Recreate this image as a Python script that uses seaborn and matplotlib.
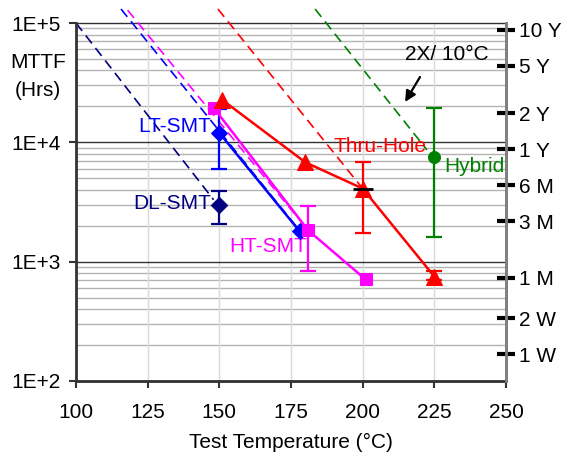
import numpy as np
import matplotlib
matplotlib.use('Agg')
import matplotlib.pyplot as plt
from matplotlib.ticker import FixedLocator, NullLocator, NullFormatter
import seaborn as sns

# --- data ---
lt_temp = [150, 178]
lt_mttf = [12000, 1800]
lt_err_temp = [150]
lt_err_mttf = [12000]
lt_err_lo = [6000]
lt_err_hi = [19000]

ht_temp = [148, 181, 201]
ht_mttf = [19500, 1830, 710]
ht_err_temp = [181]
ht_err_mttf = [1830]
ht_err_lo = [830]
ht_err_hi = [2900]

th_temp = [151, 180, 200, 225]
th_mttf = [22700, 6800, 4100, 750]
th_err_temp = [200, 225]
th_err_mttf = [4100, 750]
th_err_lo = [1740, 700]
th_err_hi = [6800, 840]

dl_temp = [150]
dl_mttf = [3000]
dl_err_lo = [2080]
dl_err_hi = [3900]

hy_temp = [225]
hy_mttf = [7600]
hy_err_lo = [1600]
hy_err_hi = [19500]

# 2X / 10C extrapolation lines
lt_ext_temp = [115.7, 178]
lt_ext_mttf = [131000, 1820]
ht_ext_temp = [118, 181]
ht_ext_mttf = [128000, 1830]
th_ext_temp = [149.5, 200]
th_ext_mttf = [131000, 4100]
dl_ext_temp = [100, 148]
dl_ext_mttf = [100000, 3300]
hy_ext_temp = [183.4, 222.4]
hy_ext_mttf = [131000, 8650]

left_ticks = [100, 1000, 10000, 100000]
left_labels = ['1E+2', '1E+3', '1E+4', '1E+5']
right_hours = [87600, 43800, 17520, 8760, 4380, 2190, 730, 336, 168]
right_labels = ['10 Y', '5 Y', '2 Y', '1 Y', '6 M', '3 M', '1 M', '2 W', '1 W']
x_ticks = [100, 125, 150, 175, 200, 225, 250]

sns.set_style('white')
plt.rcParams['font.family'] = ['Liberation Sans', 'DejaVu Sans']
plt.rcParams['text.color'] = 'black'
plt.rcParams['axes.labelcolor'] = 'black'

fig = plt.figure(figsize=(5.69, 4.55), dpi=100)
ax = fig.add_axes([76 / 569, 1 - 381 / 455, 430 / 569, 358 / 455])
ax.set_yscale('log')
ax.set_xlim(100, 250)
ax.set_ylim(100, 100000)

# grid
minor = [m * 10 ** e for e in range(2, 5) for m in range(2, 10)]
for v in minor:
    ax.axhline(v, color='#b3b3b3', lw=1.0, zorder=0)
for v in left_ticks:
    ax.axhline(v, color='#333333', lw=1.0, zorder=0.5, clip_on=False)
for t in x_ticks[1:-1]:
    ax.axvline(t, color='#d9d9d9', lw=1.0, zorder=0)

dash = (6, 3.5)
colors = {'lt': '#0000ff', 'ht': '#ff00ff', 'th': '#ff0000', 'dl': '#000080', 'hy': '#008000'}

# dashed extrapolations
for xs, ys, c in [(lt_ext_temp, lt_ext_mttf, colors['lt']),
                  (ht_ext_temp, ht_ext_mttf, colors['ht']),
                  (th_ext_temp, th_ext_mttf, colors['th']),
                  (dl_ext_temp, dl_ext_mttf, colors['dl']),
                  (hy_ext_temp, hy_ext_mttf, colors['hy'])]:
    sns.lineplot(x=xs, y=ys, ax=ax, color=c, lw=1.2, dashes=False,
                 linestyle=(0, dash), clip_on=False, zorder=2)

# error bars
def bars(xs, ys, lo, hi, c):
    ax.errorbar(xs, ys, yerr=[np.subtract(ys, lo), np.subtract(hi, ys)],
                fmt='none', ecolor=c, elinewidth=1.6, capsize=6, capthick=1.6, zorder=3)

bars(lt_err_temp, lt_err_mttf, lt_err_lo, lt_err_hi, colors['lt'])
bars(ht_err_temp, ht_err_mttf, ht_err_lo, ht_err_hi, colors['ht'])
bars(th_err_temp, th_err_mttf, th_err_lo, th_err_hi, colors['th'])
bars(dl_temp, dl_mttf, dl_err_lo, dl_err_hi, colors['dl'])
bars(hy_temp, hy_mttf, hy_err_lo, hy_err_hi, colors['hy'])

# solid series lines with markers
sns.lineplot(x=lt_temp, y=lt_mttf, ax=ax, color=colors['lt'], lw=1.8, marker='D',
             markersize=8, markeredgecolor=colors['lt'], zorder=4)
sns.lineplot(x=ht_temp, y=ht_mttf, ax=ax, color=colors['ht'], lw=1.8, marker='s',
             markersize=9, markeredgecolor=colors['ht'], zorder=4)
sns.lineplot(x=th_temp, y=th_mttf, ax=ax, color=colors['th'], lw=1.8, marker='^',
             markersize=11, markeredgecolor=colors['th'], zorder=4)
sns.scatterplot(x=dl_temp, y=dl_mttf, ax=ax, color=colors['dl'], marker='D', s=70,
                edgecolor=colors['dl'], zorder=5)
sns.scatterplot(x=hy_temp, y=hy_mttf, ax=ax, color=colors['hy'], marker='o', s=75,
                edgecolor=colors['hy'], zorder=5)
ax.plot(th_temp[2], th_mttf[2], marker='_', color='black', markersize=14, mew=2, zorder=6)

# labels on series
fs = 15
ax.text(147, 13500, 'LT-SMT', color=colors['lt'], fontsize=fs, ha='right', va='center')
ax.text(147, 3060, 'DL-SMT', color=colors['dl'], fontsize=fs, ha='right', va='center')
ax.text(153.5, 1340, 'HT-SMT', color=colors['ht'], fontsize=fs, ha='left', va='center')
ax.text(190, 9200, 'Thru-Hole', color=colors['th'], fontsize=fs, ha='left', va='center')
ax.text(228.5, 6300, 'Hybrid', color=colors['hy'], fontsize=fs, ha='left', va='center')

ax.text(229.4, 54000, '2X/ 10\u00b0C', fontsize=fs, ha='center', va='center', color='black')
ax.annotate('', xy=(214.8, 21800), xytext=(220, 35300),
            arrowprops=dict(arrowstyle='-|>', color='black', lw=1.6, mutation_scale=16,
                            shrinkA=0, shrinkB=0))

# axes styling
ax.yaxis.set_major_locator(FixedLocator(left_ticks))
ax.yaxis.set_minor_locator(NullLocator())
ax.yaxis.set_minor_formatter(NullFormatter())
ax.set_yticklabels(left_labels)
ax.set_xticks(x_ticks)
ax.tick_params(axis='both', direction='out', length=5, width=1.5, color='#333333',
               labelcolor='black', labelsize=fs, left=True, bottom=True)
ax.tick_params(axis='x', pad=11)
ax.tick_params(axis='y', pad=6)
ax.spines['top'].set_visible(False)
ax.spines['left'].set_color('#333333')
ax.spines['left'].set_linewidth(2)
ax.spines['bottom'].set_color('#333333')
ax.spines['bottom'].set_linewidth(2)
ax.spines['right'].set_color('#808080')
ax.spines['right'].set_linewidth(2)
ax.set_xlabel('Test Temperature (\u00b0C)', fontsize=fs, labelpad=8, color='black')
ax.set_ylabel('')

ax2 = ax.twinx()
ax2.set_yscale('log')
ax2.set_ylim(ax.get_ylim())
ax2.yaxis.set_major_locator(FixedLocator(right_hours))
ax2.yaxis.set_minor_locator(NullLocator())
ax2.yaxis.set_minor_formatter(NullFormatter())
ax2.set_yticklabels(right_labels)
ax2.tick_params(axis='y', direction='inout', length=13, width=3, color='black',
                labelcolor='black', labelsize=fs, pad=3, right=True)
for s in ['top', 'left', 'bottom']:
    ax2.spines[s].set_visible(False)
ax2.spines['right'].set_color('#808080')
ax2.spines['right'].set_linewidth(2)

fig.text(38 / 569, 1 - 63 / 455, 'MTTF', fontsize=fs, ha='center', va='center', color='black')
fig.text(38 / 569, 1 - 90 / 455, '(Hrs)', fontsize=fs, ha='center', va='center', color='black')

fig.savefig('out.png', dpi=100)
